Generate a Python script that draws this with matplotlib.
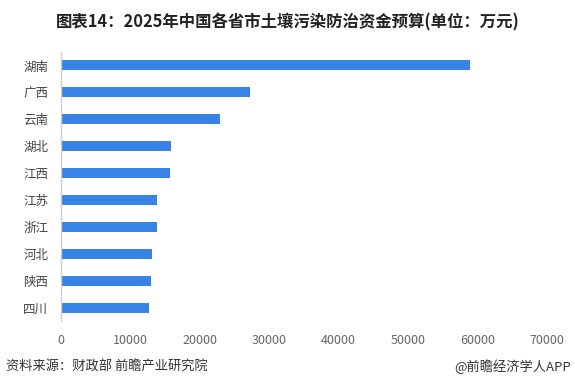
import matplotlib
matplotlib.use("Agg")
import matplotlib.pyplot as plt

plt.rcParams['font.family'] = ['Noto Sans CJK SC', 'DejaVu Sans']

TITLE = "图表14：2025年中国各省市土壤污染防治资金预算(单位：万元)"
SOURCE = "资料来源：财政部 前瞻产业研究院"
BRAND = "@前瞻经济学人APP"

provinces = ["湖南", "广西", "云南", "湖北", "江西", "江苏", "浙江", "河北", "陕西", "四川"]
budget = [58900, 27200, 22900, 15900, 15700, 13850, 13850, 13150, 13000, 12700]
x_ticks = [0, 10000, 20000, 30000, 40000, 50000, 60000, 70000]

BAR_COLOR = "#3784e6"


def main() -> None:
    fig = plt.figure(figsize=[5.75, 3.92], dpi=100)
    ax = fig.add_axes([60.7 / 575, 1 - 321 / 392, (547 - 60.7) / 575, (321 - 52) / 392])

    pos = list(range(len(provinces)))
    ax.barh(pos, budget, height=0.37, color=BAR_COLOR)
    ax.set_ylim(len(provinces) - 0.5, -0.5)
    ax.set_xlim(0, 70000)
    ax.set_yticks(pos)
    ax.set_yticklabels(provinces, fontsize=9, color="#444444")
    ax.set_xticks(x_ticks)
    ax.set_xticklabels([str(t) for t in x_ticks], fontsize=9, color="#666666")
    ax.tick_params(axis="both", length=0)
    ax.tick_params(axis="y", pad=9)
    ax.tick_params(axis="x", pad=9)

    for side in ["top", "right", "bottom"]:
        ax.spines[side].set_visible(False)
    ax.spines["left"].set_color("#cccccc")
    ax.spines["left"].set_linewidth(1.0)

    fig.text(0.5, 1 - 22 / 392, TITLE, ha="center", va="center",
             fontsize=11.8, fontweight="bold", color="#222222")
    fig.text(6 / 575, 1 - 367 / 392, SOURCE, ha="left", va="center",
             fontsize=9.5, color="#333333")
    fig.text(571 / 575, 1 - 367 / 392, BRAND, ha="right", va="center",
             fontsize=9.5, color="#333333")

    fig.savefig("out.png", dpi=100)


if __name__ == '__main__':
    main()
